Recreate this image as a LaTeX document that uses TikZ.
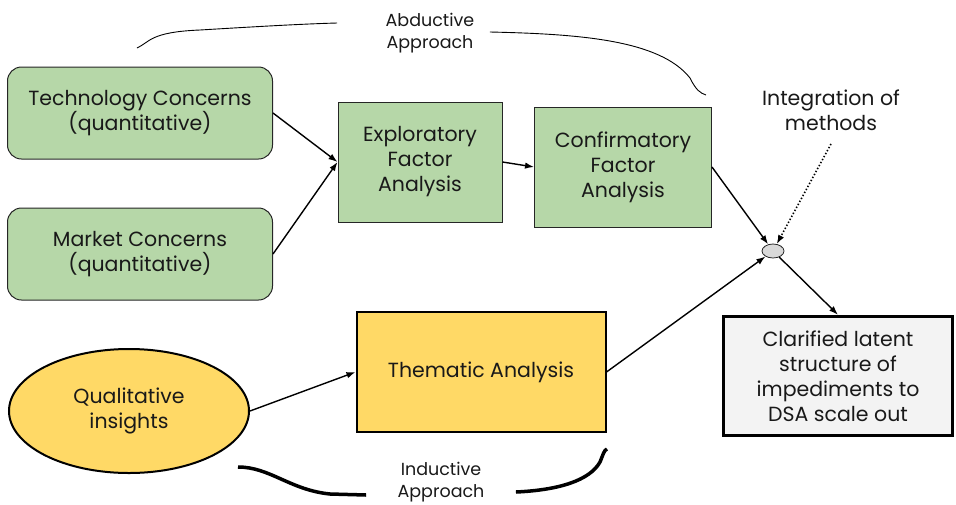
\documentclass[tikz,border=0pt]{standalone}
\usepackage{fontspec}
\setmainfont{Poppins}
\usepackage{tikz}
\usetikzlibrary{shapes,arrows.meta,positioning,calc}

\definecolor{qgreen}{HTML}{B6D7A8}
\definecolor{qyellow}{HTML}{FFD966}
\definecolor{qgrey}{HTML}{F3F3F3}
\definecolor{qdot}{HTML}{D9D9D9}

\tikzset{
    lbl/.style={font=\fontsize{20.5}{25}\selectfont, align=center, text=black!90},
    small/.style={font=\fontsize{17.5}{22}\selectfont, align=center, text=black!90},
    greenround/.style={lbl, draw=black!85, fill=qgreen, rounded corners=14pt, line width=1pt, minimum width=265pt, minimum height=92pt},
    greenbox/.style={lbl, draw=black!85, fill=qgreen, line width=1pt},
    arr/.style={-{Latex[length=9pt,width=6.5pt]}, line width=1.4pt},
}

\begin{document}
\begin{tikzpicture}[x=1pt, y=-1pt]
    \useasboundingbox (0,0) rectangle (956,504);

    % Quantitative sources
    \node[greenround] (tech) at (140,113) {Technology Concerns\\(quantitative)};
    \node[greenround] (market) at (140,254) {Market Concerns\\(quantitative)};

    % Factor analyses
    \node[greenbox, minimum width=164pt, minimum height=120pt] (efa) at (420,162) {Exploratory\\Factor\\Analysis};
    \node[greenbox, minimum width=177pt, minimum height=120pt] (cfa) at (623,167) {Confirmatory\\Factor\\Analysis};

    % Qualitative strand
    \node[lbl, ellipse, draw=black, fill=qyellow, line width=2pt, minimum width=240pt, minimum height=124pt] (qual) at (129,411) {Qualitative\\insights};
    \node[lbl, draw=black, fill=qyellow, line width=2pt, minimum width=249pt, minimum height=120pt] (them) at (481,372) {Thematic Analysis};

    % Integration point and outcome
    \node[ellipse, draw=black!85, fill=qdot, line width=0.8pt, minimum width=22pt, minimum height=14pt, inner sep=0pt] (merge) at (773,251) {};
    \node[lbl, draw=black, fill=qgrey, line width=3.5pt, minimum width=229pt, minimum height=119pt] (out) at (838,376) {Clarified latent\\structure of\\impediments to\\DSA scale out};
    \node[lbl] (integ) at (831,110) {Integration of\\methods};

    % Connectors
    \draw[arr] (tech.east) -- (efa.west);
    \draw[arr] (market.east) -- (efa.west);
    \draw[arr] (efa.east) -- (cfa.west);
    \draw[arr] (cfa.east) -- (merge);
    \draw[arr] (them.east) -- (merge);
    \draw[arr] (merge) -- (out.north);
    \draw[arr] (qual.east) -- (them.west);
    \draw[arr, dotted, line width=1.6pt] (integ.south) ++(0,10) coordinate (dtop) (dtop) -- (merge);

    % Abductive Approach brace
    \node[small] (abd) at (430,33) {Abductive\\Approach};
    \draw[line width=0.9pt] (137,48) .. controls (150,42) and (150,32) .. (200,30) .. controls (250,27) and (300,24) .. ([xshift=-45pt]abd.west |- 0,23);
    \draw[line width=0.9pt] ([xshift=12pt]abd.east |- 0,32) .. controls (580,34) and (660,40) .. (690,78) .. controls (696,90) and (700,93) .. (706,95);

    % Inductive Approach brace
    \node[small] (ind) at (441,482) {Inductive\\Approach};
    \draw[line width=3.5pt] (238,467) .. controls (270,467) and (290,490) .. (330,494) -- ([xshift=-28pt]ind.west |- 0,495);
    \draw[line width=3.5pt] ([xshift=28pt]ind.east |- 0,492) .. controls (560,490) and (590,480) .. (600,462) .. controls (603,455) and (604,450) .. (607,449);
\end{tikzpicture}
\end{document}
